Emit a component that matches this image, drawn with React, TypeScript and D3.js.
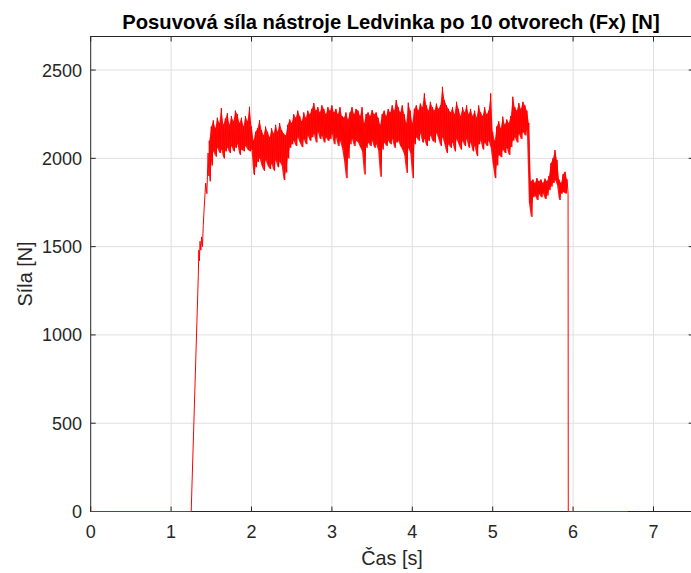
import React from 'react';
import * as d3 from 'd3';

const titleText = 'Posuvová síla nástroje Ledvinka po 10 otvorech (Fx) [N]';
const xLabelText = 'Čas [s]';
const yLabelText = 'Síla [N]';
const xTicks = [0, 1, 2, 3, 4, 5, 6, 7];
const yTicks = [0, 500, 1000, 1500, 2000, 2500];
const xDomain = [0, 7.5];
const yDomain = [0, 2690];

// ramp-up section (time [s], force [N])
const riseT = [0, 1.25, 1.338, 1.345, 1.352, 1.36, 1.37, 1.38, 1.39, 1.4, 1.41, 1.43, 1.445, 1.46, 1.47];
const riseV = [0, 0, 1330, 1480, 1420, 1530, 1480, 1555, 1500, 1620, 1707, 1860, 1800, 2030, 1900];

// noisy plateau: per-column upper / lower values, columns every 0.025 s from 1.475 s
const bandStart = 1.475;
const bandStep = 0.025;
const bandHi = [
  2100, 2180, 2215, 2170, 2230, 2200, 2285, 2190, 2225, 2256,
  2190, 2240, 2210, 2270, 2250, 2200, 2230, 2180, 2240, 2210,
  2292, 2180, 2100, 2150, 2170, 2217, 2160, 2130, 2180, 2150,
  2120, 2170, 2140, 2190, 2150, 2200, 2160, 2140, 2130, 2190,
  2220, 2200, 2250, 2230, 2270, 2240, 2210, 2260, 2230, 2270,
  2250, 2280, 2313, 2270, 2290, 2260, 2300, 2280, 2250, 2290,
  2270, 2300, 2260, 2280, 2250, 2290, 2240, 2230, 2260, 2220,
  2260, 2290, 2250, 2280, 2270, 2240, 2290, 2200, 2250, 2260,
  2240, 2273, 2250, 2260, 2230, 2190, 2250, 2270, 2240, 2280,
  2260, 2300, 2270, 2330, 2290, 2260, 2300, 2250, 2200, 2315,
  2270, 2200, 2280, 2300, 2270, 2310, 2290, 2368, 2300, 2270,
  2320, 2290, 2270, 2310, 2280, 2300, 2405, 2330, 2300, 2280,
  2260, 2290, 2250, 2320, 2280, 2240, 2290, 2260, 2300, 2250,
  2280, 2240, 2270, 2230, 2300, 2260, 2240, 2290, 2250, 2270,
  2368, 2150, 2100, 2180, 2210, 2170, 2236, 2190, 2220, 2200,
  2240, 2349, 2290, 2270, 2313, 2280, 2320, 2300, 2270, 2200,
  1870, 1880, 1860, 1888, 1870, 1880, 1860, 1885, 1870, 1900,
  1973, 2000, 2047, 1990, 1880, 1860, 1910, 1924, 1880,
];
const bandLo = [
  1870, 1960, 2040, 2010, 2060, 2030, 2050, 2000, 2040, 2060,
  2030, 2070, 2040, 2060, 2080, 2020, 2050, 2040, 2070, 2050,
  2040, 2050, 1906, 1950, 1980, 2000, 1960, 1930, 1990, 1960,
  1940, 1970, 1930, 1990, 1950, 1980, 1960, 1877, 1920, 2000,
  2060, 2080, 2100, 2070, 2120, 2090, 2064, 2110, 2080, 2130,
  2100, 2120, 2140, 2090, 2150, 2110, 2130, 2090, 2120, 2100,
  2110, 2140, 2080, 2120, 2070, 2100, 2060, 1990, 1888, 2000,
  2080, 2110, 2070, 2100, 2090, 2064, 2040, 1909, 2060, 2090,
  2070, 2100, 2060, 2080, 2047, 1896, 2050, 2090, 2070, 2100,
  2080, 2110, 2060, 2090, 2100, 2070, 2050, 2020, 1918, 2060,
  2030, 1888, 2080, 2120, 2100, 2140, 2090, 2110, 2070, 2100,
  2130, 2100, 2090, 2143, 2110, 2070, 2120, 2080, 2030, 2080,
  2060, 2090, 2040, 2110, 2080, 2050, 2100, 2070, 2110, 2060,
  2090, 2040, 2070, 2013, 2080, 2100, 2050, 2090, 2070, 2100,
  2060, 1970, 1888, 1960, 2020, 2007, 2050, 2030, 2060, 2020,
  2064, 2100, 2120, 2090, 2140, 2110, 2150, 2130, 2160, 1750,
  1669, 1780, 1790, 1764, 1800, 1780, 1803, 1770, 1790, 1820,
  1840, 1860, 1877, 1850, 1764, 1800, 1810, 1803, 1800,
];

// drop and idle section
const endT = [5.94, 6.68];
const endV = [0, 0];

const W = 691;
const H = 573;
const FONT = '"Liberation Sans", Arial, Helvetica, sans-serif';
const AX = '#262626';
const GRID = '#dfdfdf';

export default function App() {
  const x = d3.scaleLinear().domain(xDomain).range([90.7, 693.7]);
  const y = d3.scaleLinear().domain(yDomain).range([511.5, 36.5]);

  const pts: [number, number][] = [];
  riseT.forEach((t, i) => pts.push([t, riseV[i]]));
  bandHi.forEach((h, i) => {
    const t = bandStart + i * bandStep;
    pts.push([t, h]);
    pts.push([t + bandStep / 2, bandLo[i]]);
  });
  endT.forEach((t, i) => pts.push([t, endV[i]]));

  const cols = bandHi.map((h, i) => ({ t: bandStart + i * bandStep, hi: h, lo: bandLo[i] }));

  const line = d3
    .line<[number, number]>()
    .x((d) => x(d[0]))
    .y((d) => y(d[1]));

  const area = d3
    .area<{ t: number; hi: number; lo: number }>()
    .x((d) => x(d.t))
    .y0((d) => y(d.lo))
    .y1((d) => y(d.hi));

  const [x0, x1] = x.range();
  const [yb, yt] = y.range();
  const tickLen = 5;

  return (
    <svg width={W} height={H} style={{ position: 'absolute', left: 0, top: 0, background: '#fff' }} fontFamily={FONT}>
      <rect x={0} y={0} width={W} height={H} fill="#fff" />
      {/* grid */}
      {xTicks.slice(1).map((t) => (
        <line key={'gx' + t} x1={x(t)} x2={x(t)} y1={yt} y2={yb} stroke={GRID} strokeWidth={1} />
      ))}
      {yTicks.slice(1).map((v) => (
        <line key={'gy' + v} x1={x0} x2={x1} y1={y(v)} y2={y(v)} stroke={GRID} strokeWidth={1} />
      ))}
      {/* axes box */}
      <rect x={x0} y={yt} width={x1 - x0} height={yb - yt} fill="none" stroke={AX} strokeWidth={1} />
      {/* ticks */}
      {xTicks.map((t) => (
        <g key={'tx' + t}>
          <line x1={x(t)} x2={x(t)} y1={yb} y2={yb - tickLen} stroke={AX} />
          <line x1={x(t)} x2={x(t)} y1={yt} y2={yt + tickLen} stroke={AX} />
          <text x={x(t)} y={537.5} textAnchor="middle" fontSize={18} fill={AX}>
            {t}
          </text>
        </g>
      ))}
      {yTicks.map((v) => (
        <g key={'ty' + v}>
          <line x1={x0} x2={x0 + tickLen} y1={y(v)} y2={y(v)} stroke={AX} />
          <line x1={x1} x2={x1 - tickLen} y1={y(v)} y2={y(v)} stroke={AX} />
          <text x={82} y={y(v) + 6.5} textAnchor="end" fontSize={18} fill={AX}>
            {v}
          </text>
        </g>
      ))}
      {/* data */}
      <path d={area(cols) || ''} fill="#ff0000" fillOpacity={0.9} stroke="none" />
      <path d={line(pts) || ''} fill="none" stroke="#ff0000" strokeWidth={1} strokeLinejoin="round" />
      {/* labels */}
      <text x={391} y={29} textAnchor="middle" fontSize={20.2} fontWeight="bold" fill="#000">
        {titleText}
      </text>
      <text x={392} y={565} textAnchor="middle" fontSize={19.8} fill={AX}>
        {xLabelText}
      </text>
      <text transform={`translate(32,274) rotate(-90)`} textAnchor="middle" fontSize={19.8} fill={AX}>
        {yLabelText}
      </text>
    </svg>
  );
}
